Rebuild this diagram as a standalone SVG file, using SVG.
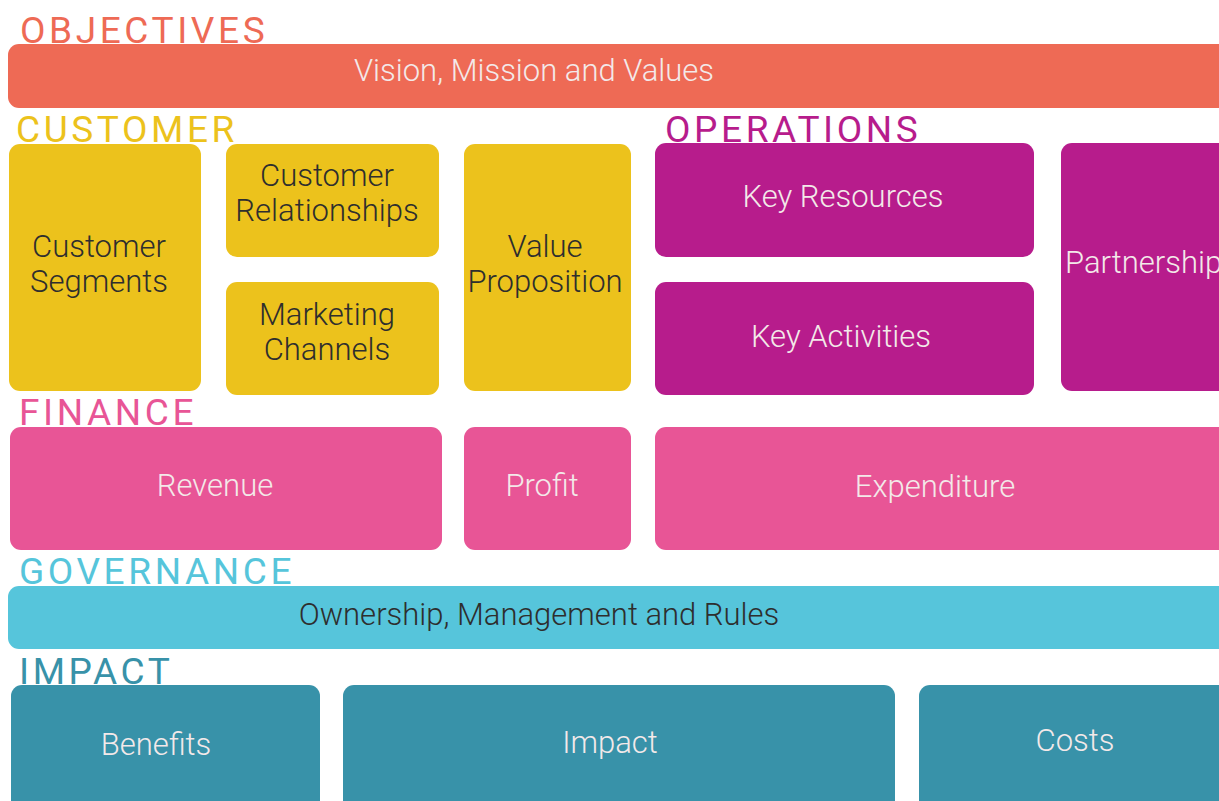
<svg xmlns="http://www.w3.org/2000/svg" width="1219" height="801" viewBox="0 0 1219 801">
<style>
.lbl{font-family:Roboto,"Liberation Sans",sans-serif;font-weight:400;font-size:37px;letter-spacing:3.6px}
.t{font-family:Roboto,"Liberation Sans",sans-serif;font-weight:300;font-size:31px;text-anchor:middle}
.lt{fill:#f3e9e9}
.dk{fill:#2e2e2e}
.obj{fill:#ee6a55}.cus{fill:#ecc21c}.ops{fill:#b71c8c}.fin{fill:#e85596}.gov{fill:#56c5db}.imp{fill:#3892a9}
</style>
<rect width="1219" height="801" fill="#ffffff"/>
<g id="labels">
<text class="lbl" x="20" y="43" fill="#ee6a55">OBJECTIVES</text>
<text class="lbl" x="16" y="142" fill="#ecc21c">CUSTOMER</text>
<text class="lbl" x="665" y="142" fill="#b71c8c">OPERATIONS</text>
<text class="lbl" x="19" y="425" fill="#e85596">FINANCE</text>
<text class="lbl" x="19" y="584" fill="#56c5db">GOVERNANCE</text>
<text class="lbl" x="19" y="684" fill="#3892a9">IMPACT</text>
</g>
<g id="objectives"><rect class="obj" x="8" y="44" width="1230" height="64" rx="11"/><text class="t lt" x="534" y="81">Vision, Mission and Values</text></g>
<g id="customer-segments"><rect class="cus" x="9" y="144" width="192" height="247" rx="11"/><text class="t dk" x="99" y="257">Customer</text><text class="t dk" x="99" y="292">Segments</text></g>
<g id="customer-relationships"><rect class="cus" x="226" y="144" width="213" height="113" rx="11"/><text class="t dk" x="327" y="186">Customer</text><text class="t dk" x="327" y="221">Relationships</text></g>
<g id="marketing-channels"><rect class="cus" x="226" y="282" width="213" height="113" rx="11"/><text class="t dk" x="327" y="325">Marketing</text><text class="t dk" x="327" y="360">Channels</text></g>
<g id="value-proposition"><rect class="cus" x="464" y="144" width="167" height="247" rx="11"/><text class="t dk" x="545" y="257">Value</text><text class="t dk" x="545" y="292">Proposition</text></g>
<g id="key-resources"><rect class="ops" x="655" y="143" width="379" height="114" rx="11"/><text class="t lt" x="843" y="207">Key Resources</text></g>
<g id="key-activities"><rect class="ops" x="655" y="282" width="379" height="113" rx="11"/><text class="t lt" x="841" y="347">Key Activities</text></g>
<g id="partnerships"><rect class="ops" x="1061" y="143" width="180" height="248" rx="11"/><text class="t lt" x="1065" y="273" style="text-anchor:start">Partnerships</text></g>
<g id="revenue"><rect class="fin" x="10" y="427" width="432" height="123" rx="11"/><text class="t lt" x="215" y="496">Revenue</text></g>
<g id="profit"><rect class="fin" x="464" y="427" width="167" height="123" rx="11"/><text class="t lt" x="542" y="496">Profit</text></g>
<g id="expenditure"><rect class="fin" x="655" y="427" width="580" height="123" rx="11"/><text class="t lt" x="935" y="497">Expenditure</text></g>
<g id="governance"><rect class="gov" x="8" y="586" width="1230" height="63" rx="11"/><text class="t dk" x="539" y="625">Ownership, Management and Rules</text></g>
<g id="benefits"><rect class="imp" x="11" y="685" width="309" height="130" rx="11"/><text class="t lt" x="156" y="755">Benefits</text></g>
<g id="impact"><rect class="imp" x="343" y="685" width="552" height="130" rx="11"/><text class="t lt" x="610" y="753">Impact</text></g>
<g id="costs"><rect class="imp" x="919" y="685" width="320" height="130" rx="11"/><text class="t lt" x="1075" y="751">Costs</text></g>
<g id="connectors"></g>
</svg>
